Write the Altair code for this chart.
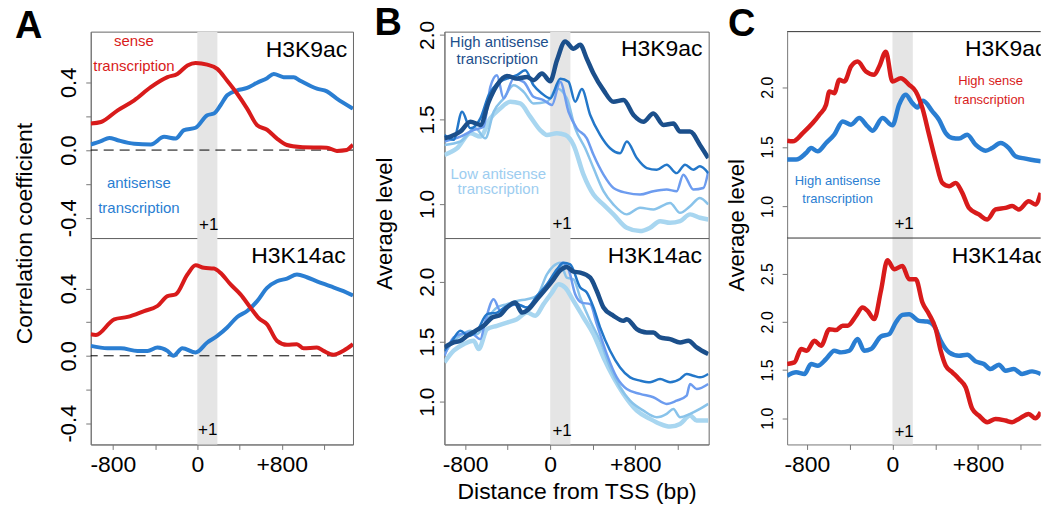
import altair as alt
import pandas as pd

# ---------------- values ----------------
# Panel A : correlation coefficient (H3K9ac top, H3K14ac bottom)
a9_sense_x = [-1010, -913, -755, -598, -441, -283, -189, -94, -16, 94, 189, 283, 378, 472, 567, 661, 755, 850, 975, 1133, 1228, 1322, 1416, 1464, 1475]
a9_sense_y = [0.157, 0.166, 0.235, 0.294, 0.372, 0.431, 0.45, 0.5, 0.515, 0.505, 0.48, 0.41, 0.333, 0.245, 0.147, 0.12, 0.068, 0.03, 0.018, 0.015, 0.014, -0.005, 0.0, 0.025, 0.03]
a9_anti_x = [-1010, -913, -834, -755, -598, -441, -315, -205, -126, -16, 94, 157, 220, 283, 378, 472, 567, 661, 724, 818, 913, 975, 1133, 1228, 1322, 1464, 1475]
a9_anti_y = [0.033, 0.053, 0.072, 0.058, 0.037, 0.033, 0.078, 0.068, 0.118, 0.132, 0.206, 0.216, 0.265, 0.324, 0.353, 0.367, 0.398, 0.425, 0.45, 0.431, 0.43, 0.41, 0.363, 0.347, 0.304, 0.249, 0.245]
a14_sense_x = [-1010, -961, -787, -661, -504, -378, -283, -205, -94, -16, 63, 157, 220, 315, 409, 504, 583, 661, 755, 850, 944, 1007, 1133, 1196, 1291, 1385, 1475]
a14_sense_y = [0.128, 0.124, 0.217, 0.231, 0.266, 0.296, 0.355, 0.365, 0.483, 0.538, 0.523, 0.519, 0.493, 0.424, 0.365, 0.286, 0.223, 0.187, 0.089, 0.065, 0.069, 0.045, 0.049, 0.029, 0.006, 0.03, 0.069]
a14_anti_x = [-1010, -850, -724, -567, -472, -378, -283, -227, -142, -16, 94, 189, 283, 378, 472, 567, 661, 755, 850, 944, 1038, 1133, 1259, 1385, 1475]
a14_anti_y = [0.059, 0.045, 0.045, 0.029, 0.029, 0.049, 0.029, 0.0, 0.045, 0.02, 0.079, 0.118, 0.168, 0.231, 0.266, 0.325, 0.404, 0.443, 0.459, 0.483, 0.467, 0.443, 0.414, 0.384, 0.358]

# Panel B : average level, five antisense-transcription groups (high -> low)
b9_1_x = [-995, -939, -845, -751, -657, -579, -501, -407, -313, -219, -157, -78, 0, 63, 141, 219, 282, 344, 407, 501, 595, 689, 783, 876, 970, 1064, 1158, 1221, 1315, 1408, 1486]
b9_1_y = [1.388, 1.398, 1.428, 1.486, 1.467, 1.604, 1.702, 1.757, 1.741, 1.751, 1.732, 1.771, 1.726, 1.849, 1.961, 1.918, 1.941, 1.859, 1.771, 1.673, 1.604, 1.614, 1.526, 1.486, 1.535, 1.467, 1.476, 1.428, 1.428, 1.349, 1.271]
b9_2_x = [-995, -908, -829, -751, -657, -579, -501, -407, -313, -235, -157, -78, 0, 94, 172, 235, 297, 376, 469, 563, 657, 720, 814, 908, 1002, 1095, 1189, 1268, 1346, 1408, 1486]
b9_2_y = [1.408, 1.379, 1.545, 1.447, 1.506, 1.643, 1.712, 1.741, 1.761, 1.79, 1.702, 1.653, 1.624, 1.741, 1.722, 1.604, 1.679, 1.526, 1.408, 1.329, 1.3, 1.369, 1.271, 1.212, 1.202, 1.232, 1.182, 1.232, 1.202, 1.222, 1.182]
b9_3_x = [-995, -845, -720, -626, -563, -501, -438, -344, -250, -157, -63, 16, 94, 172, 250, 344, 407, 501, 595, 720, 845, 970, 1095, 1189, 1252, 1346, 1440, 1486]
b9_3_y = [1.369, 1.398, 1.437, 1.457, 1.692, 1.761, 1.624, 1.741, 1.722, 1.634, 1.614, 1.585, 1.722, 1.545, 1.447, 1.388, 1.29, 1.173, 1.094, 1.065, 1.055, 1.075, 1.085, 1.075, 1.173, 1.085, 1.094, 1.192]
b9_4_x = [-995, -845, -704, -610, -532, -438, -344, -250, -157, -31, 63, 156, 235, 329, 407, 501, 595, 720, 845, 970, 1127, 1221, 1315, 1408, 1486]
b9_4_y = [1.349, 1.369, 1.447, 1.388, 1.545, 1.624, 1.702, 1.663, 1.594, 1.604, 1.682, 1.624, 1.447, 1.329, 1.212, 1.075, 0.996, 0.938, 0.977, 0.967, 1.006, 0.947, 0.986, 1.035, 0.996]
b9_5_x = [-995, -876, -751, -657, -563, -469, -376, -282, -188, -94, -31, 63, 141, 219, 313, 407, 501, 595, 720, 845, 939, 1033, 1127, 1221, 1315, 1408, 1486]
b9_5_y = [1.29, 1.329, 1.418, 1.398, 1.506, 1.565, 1.604, 1.594, 1.516, 1.437, 1.408, 1.418, 1.408, 1.349, 1.173, 1.055, 0.996, 0.938, 0.859, 0.839, 0.859, 0.898, 0.888, 0.898, 0.938, 0.918, 0.908]

b14_1_x = [-995, -908, -845, -782, -704, -626, -547, -469, -407, -329, -266, -204, -125, -31, 31, 94, 156, 219, 282, 376, 438, 501, 595, 689, 720, 814, 908, 970, 1033, 1127, 1221, 1299, 1377, 1486]
b14_1_y = [1.452, 1.493, 1.507, 1.548, 1.59, 1.632, 1.701, 1.723, 1.784, 1.825, 1.742, 1.77, 1.853, 1.95, 2.019, 2.094, 2.122, 2.083, 2.075, 2.033, 1.922, 1.784, 1.715, 1.673, 1.687, 1.604, 1.576, 1.576, 1.535, 1.521, 1.493, 1.507, 1.452, 1.396]
b14_2_x = [-995, -923, -845, -767, -688, -594, -501, -407, -313, -219, -125, -31, 63, 125, 188, 282, 344, 407, 469, 563, 657, 751, 845, 939, 1033, 1127, 1221, 1283, 1346, 1408, 1486]
b14_2_y = [1.424, 1.507, 1.59, 1.548, 1.59, 1.729, 1.742, 1.798, 1.812, 1.784, 1.881, 1.978, 2.102, 2.158, 2.144, 1.95, 1.909, 1.784, 1.618, 1.424, 1.285, 1.202, 1.175, 1.161, 1.188, 1.161, 1.188, 1.23, 1.216, 1.202, 1.23]
b14_3_x = [-995, -908, -845, -751, -657, -610, -532, -469, -407, -313, -219, -125, -31, 63, 110, 172, 235, 297, 376, 438, 532, 626, 720, 845, 970, 1095, 1189, 1283, 1315, 1377, 1486]
b14_3_y = [1.382, 1.535, 1.562, 1.576, 1.521, 1.673, 1.853, 1.756, 1.784, 1.812, 1.784, 1.867, 1.964, 2.075, 2.158, 2.102, 1.895, 1.825, 1.812, 1.645, 1.396, 1.202, 1.105, 1.064, 1.036, 0.981, 1.008, 1.05, 1.147, 1.105, 1.147]
b14_4_x = [-995, -908, -845, -751, -688, -594, -501, -407, -313, -219, -125, -31, 31, 94, 156, 219, 282, 376, 469, 563, 657, 751, 876, 1002, 1095, 1158, 1221, 1315, 1408, 1486]
b14_4_y = [1.396, 1.507, 1.548, 1.59, 1.562, 1.687, 1.784, 1.812, 1.839, 1.853, 1.881, 2.061, 2.13, 2.158, 2.033, 2.019, 1.867, 1.673, 1.507, 1.285, 1.119, 1.008, 0.925, 0.87, 0.898, 0.939, 0.87, 0.898, 0.939, 0.981]
b14_5_x = [-995, -908, -814, -720, -673, -594, -501, -407, -313, -219, -141, -63, 16, 78, 141, 219, 313, 407, 501, 595, 689, 814, 939, 1033, 1127, 1221, 1315, 1377, 1486]
b14_5_y = [1.327, 1.424, 1.479, 1.507, 1.438, 1.604, 1.632, 1.659, 1.687, 1.742, 1.715, 1.812, 1.909, 1.978, 1.95, 1.839, 1.701, 1.562, 1.368, 1.202, 1.064, 0.925, 0.856, 0.814, 0.792, 0.814, 0.884, 0.842, 0.842]

# Panel C : average level, high sense vs high antisense
c9_sense_x = [-985, -932, -839, -746, -683, -621, -590, -544, -497, -450, -388, -326, -248, -171, -124, -62, 0, 78, 156, 218, 280, 342, 405, 466, 529, 591, 653, 715, 808, 886, 964, 1057, 1119, 1181, 1274, 1336, 1386]
c9_sense_y = [1.552, 1.546, 1.615, 1.699, 1.769, 1.853, 1.964, 1.95, 2.062, 2.048, 2.173, 2.215, 2.131, 2.104, 2.173, 2.298, 2.048, 2.075, 2.02, 1.964, 1.824, 1.602, 1.379, 1.197, 1.17, 1.197, 1.114, 0.988, 0.933, 0.891, 0.975, 0.988, 1.003, 0.975, 1.044, 1.017, 1.114]
c9_anti_x = [-985, -901, -808, -761, -699, -621, -544, -466, -388, -310, -233, -186, -93, 0, 62, 124, 186, 233, 286, 373, 435, 498, 560, 622, 699, 777, 871, 932, 1011, 1088, 1150, 1243, 1336, 1386]
c9_anti_y = [1.393, 1.393, 1.448, 1.49, 1.462, 1.532, 1.602, 1.713, 1.686, 1.741, 1.671, 1.635, 1.741, 1.68, 1.853, 1.936, 1.866, 1.83, 1.886, 1.797, 1.727, 1.615, 1.574, 1.569, 1.602, 1.518, 1.468, 1.49, 1.532, 1.49, 1.421, 1.401, 1.385, 1.379]
c14_sense_x = [-985, -917, -854, -802, -730, -668, -590, -528, -466, -420, -341, -280, -233, -171, -108, -47, 16, 93, 156, 218, 280, 342, 405, 451, 498, 560, 622, 684, 746, 808, 886, 964, 1057, 1119, 1181, 1274, 1336, 1386]
c14_sense_y = [1.562, 1.579, 1.717, 1.7, 1.803, 1.752, 1.924, 1.914, 1.959, 1.959, 2.062, 2.148, 2.114, 2.028, 2.321, 2.638, 2.545, 2.579, 2.441, 2.441, 2.2, 2.079, 1.924, 1.7, 1.545, 1.476, 1.407, 1.321, 1.097, 1.028, 0.959, 0.993, 0.976, 0.959, 0.993, 1.045, 1.0, 1.062]
c14_anti_x = [-985, -901, -823, -761, -699, -621, -544, -481, -404, -326, -264, -201, -108, -31, 31, 93, 156, 249, 326, 389, 451, 529, 622, 699, 777, 855, 917, 995, 1057, 1135, 1212, 1305, 1386]
c14_anti_y = [1.441, 1.476, 1.459, 1.562, 1.545, 1.614, 1.7, 1.683, 1.7, 1.821, 1.7, 1.717, 1.848, 1.872, 1.993, 2.072, 2.079, 2.01, 2.003, 1.959, 1.803, 1.683, 1.648, 1.659, 1.59, 1.562, 1.51, 1.555, 1.493, 1.51, 1.459, 1.486, 1.459]

x_ticks = [-800, -400, 0, 400, 800, 1200]
band = [0, 190]
a_yticks = [-0.4, -0.2, 0.0, 0.2, 0.4]
b9_yticks = [1.0, 1.5, 2.0]
b14_yticks = [1.0, 1.5, 2.0]
c9_yticks = [1.0, 1.5, 2.0]
c14_yticks = [1.0, 1.5, 2.0, 2.5]

# ---------------- styling ----------------
FONT = "Liberation Sans, Arial, Helvetica, sans-serif"
NARROW = "'Liberation Sans Narrow', 'Arial Narrow', 'Liberation Sans', Arial, sans-serif"
AXC = "#777777"
RED = "#d81b1b"
BLUE = "#2a7ed2"
B_COLS = ["#1b4f8b", "#2377c9", "#6d9cef", "#89c3ea", "#a8d6f0"]
B_W = [4.5, 2.5, 2.5, 2.5, 4.5]
H = 207
ONE = pd.DataFrame({"_": [0]})


def y_axis(values, expr, size, pad):
    return alt.Axis(values=values, labelExpr=expr, labelAngle=270, labelAlign="center",
                    labelBaseline="alphabetic", labelFontSize=size, labelFont=NARROW,
                    labelColor="black", labelPadding=pad, tickSize=5, tickColor=AXC,
                    domainColor=AXC, grid=False, title=None, labelOverlap=False,
                    labelFlush=False)


def x_axis(title=None):
    kw = dict(values=x_ticks,
              labelExpr="datum.value == -800 ? '-800' : (datum.value == 0 ? '0' : (datum.value == 800 ? '+800' : ''))",
              labelFontSize=23, labelFont=FONT, labelColor="black", labelPadding=4,
              tickSize=5, tickColor=AXC, domainColor=AXC, grid=False, labelOverlap=False,
              labelFlush=False)
    if title:
        return alt.Axis(title=title, titleFont=FONT, titleFontSize=23, titleFontWeight="normal",
                        titleColor="black", titlePadding=4, **kw)
    return alt.Axis(title=None, **kw)


def text(t, x, y, size, color="black", align="center", font=FONT, weight="normal",
         angle=0, clip=False):
    return alt.Chart(ONE).mark_text(text=t, fontSize=size, font=font, color=color,
                                    align=align, baseline="middle", fontWeight=weight,
                                    angle=angle, clip=clip).encode(
        x=alt.value(x), y=alt.value(y))


def panel(w, xdom, ydom, series, yaxis, xaxis, texts, zero=False, frame=True, extra=()):
    xs = alt.Scale(domain=xdom, nice=False, zero=False)
    ys = alt.Scale(domain=ydom, nice=False, zero=False)
    layers = [alt.Chart(pd.DataFrame({"x": [band[0]], "x2": [band[1]]})).mark_rect(
        color="#e5e5e5").encode(x=alt.X("x:Q", scale=xs, axis=xaxis), x2="x2:Q",
                                y=alt.value(0), y2=alt.value(H))]
    if zero:
        layers.append(alt.Chart(pd.DataFrame({"v": [0.0]})).mark_rule(
            color="black", strokeDash=[10, 6], strokeWidth=1).encode(
            y=alt.Y("v:Q", scale=ys, axis=yaxis)))
    for xv, yv, col, sw in series:
        layers.append(alt.Chart(pd.DataFrame({"x": xv, "y": yv})).mark_line(
            color=col, strokeWidth=sw, interpolate="monotone", clip=True,
            strokeJoin="round").encode(
            x=alt.X("x:Q", scale=xs, axis=xaxis), y=alt.Y("y:Q", scale=ys, axis=yaxis)))
    if not frame:
        layers.append(alt.Chart(ONE).mark_rule(color="#333333", strokeWidth=1).encode(
            x=alt.value(0), x2=alt.value(w), y=alt.value(0)))
    layers += list(extra)
    layers += texts
    ch = alt.layer(*layers).properties(width=w, height=H)
    if not frame:
        ch = ch.properties(view=alt.ViewBackground(stroke="transparent"))
    return ch


A_W, B_W_, C_W = 263, 265, 254.3
A_X, B_X, C_X = [-1010, 1475], [-995, 1490], [-985, 1386]
a_expr = "datum.value == 0 ? '0.0' : (abs(datum.value) < 0.3 ? '' : '' + datum.value)"
f1 = "format(datum.value, '.1f')"
PLUS = 17

anchor = alt.Chart(ONE).mark_rule(color="transparent", strokeWidth=0.01).encode(
    x=alt.value(-89.7), x2=alt.value(-89.7), y=alt.value(-30), y2=alt.value(-30))

a_top = panel(A_W, A_X, [-0.52, 0.70],
              [(a9_anti_x, a9_anti_y, BLUE, 4), (a9_sense_x, a9_sense_y, RED, 4)],
              y_axis(a_yticks, a_expr, 22, 10.4), None,
              [text("sense", 43.3, 9, 15, RED), text("transcription", 43.3, 34, 15, RED),
               text("antisense", 48.3, 152, 15, BLUE), text("transcription", 48.3, 177, 15, BLUE),
               text("H3K9ac", 216.3, 18, 23), text("+1", 118.3, 194, PLUS, font=NARROW),
               text("Correlation coefficient", -65.7, 202.5, 23, angle=270),
               text("A", -62.2, -5, 38, weight="bold")],
              zero=True, extra=[anchor])
a_bot = panel(A_W, A_X, [-0.527, 0.70],
              [(a14_anti_x, a14_anti_y, BLUE, 4), (a14_sense_x, a14_sense_y, RED, 4)],
              y_axis(a_yticks, a_expr, 22, 10.4), x_axis(),
              [text("H3K14ac", 208.3, 18, 23), text("+1", 117.3, 193, PLUS, font=NARROW)],
              zero=True)

b_top = panel(B_W_, B_X, [0.798, 2.019],
              [(b9_5_x, b9_5_y, B_COLS[4], B_W[4]), (b9_4_x, b9_4_y, B_COLS[3], B_W[3]),
               (b9_3_x, b9_3_y, B_COLS[2], B_W[2]), (b9_2_x, b9_2_y, B_COLS[1], B_W[1]),
               (b9_1_x, b9_1_y, B_COLS[0], B_W[0])],
              y_axis(b9_yticks, f1, 21, 5.7), None,
              [text("High antisense", 55, 10.3, 15, "#1d4f8c"), text("transcription", 53, 27.3, 15, "#1d4f8c"),
               text("Low antisense", 54, 142.3, 15, "#9dcdf0"), text("transcription", 54, 158.3, 15, "#9dcdf0"),
               text("H3K9ac", 218, 17.3, 23), text("+1", 118, 193.3, PLUS, font=NARROW),
               text("Average level", -60, 192.8, 22, angle=270),
               text("B", -56.5, -7.2, 38, weight="bold")])
b_bot = panel(B_W_, B_X, [0.643, 2.363],
              [(b14_5_x, b14_5_y, B_COLS[4], B_W[4]), (b14_4_x, b14_4_y, B_COLS[3], B_W[3]),
               (b14_3_x, b14_3_y, B_COLS[2], B_W[2]), (b14_2_x, b14_2_y, B_COLS[1], B_W[1]),
               (b14_1_x, b14_1_y, B_COLS[0], B_W[0])],
              y_axis(b14_yticks, f1, 21, 5.7), x_axis("Distance from TSS (bp)"),
              [text("H3K14ac", 211, 18, 23), text("+1", 118, 194, PLUS, font=NARROW)])

c_top = panel(C_W, C_X, [0.735, 2.466],
              [(c9_anti_x, c9_anti_y, BLUE, 4.5), (c9_sense_x, c9_sense_y, RED, 4.5)],
              y_axis(c9_yticks, f1, 16, 9.4), None,
              [text("High sense", 204, 50, 13, RED), text("transcription", 203, 68.3, 13, RED),
               text("High antisense", 50.6, 150.3, 13, BLUE), text("transcription", 50.6, 168.3, 13, BLUE),
               text("H3K9ac", 178.3, 17, 23, align="left", clip=True),
               text("+1", 117.3, 193.3, PLUS, font=NARROW),
               text("Average level", -50.7, 194.3, 22, angle=270),
               text("C", -45.7, -6.7, 38, weight="bold")],
              frame=False)
c_bot = panel(C_W, C_X, [0.728, 2.869],
              [(c14_anti_x, c14_anti_y, BLUE, 4.5), (c14_sense_x, c14_sense_y, RED, 4.5)],
              y_axis(c14_yticks, f1, 16, 9.4), x_axis(),
              [text("H3K14ac", 165, 18, 23, align="left", clip=True),
               text("+1", 117.3, 195, PLUS, font=NARROW)],
              frame=False)


def spacer(w):
    return alt.Chart(ONE).mark_point(opacity=0).encode(
        x=alt.value(0), y=alt.value(0)).properties(
        width=w, height=H, view=alt.ViewBackground(stroke="transparent"))


S = 38.85
SP1 = 91.3 - 2 * S
SP2 = 78.7 - 2 * S

chart = alt.concat(
    a_top, spacer(SP1), b_top, spacer(SP2), c_top,
    a_bot, spacer(SP1), b_bot, spacer(SP2), c_bot,
    columns=5, spacing={"row": 0, "column": S}, bounds="flush",
).resolve_scale(x="independent", y="independent").properties(
    padding=0, background="white"
).configure_view(stroke="#666666", strokeWidth=1)

chart.save("out.html", embed_options={"renderer": "svg", "actions": False})
